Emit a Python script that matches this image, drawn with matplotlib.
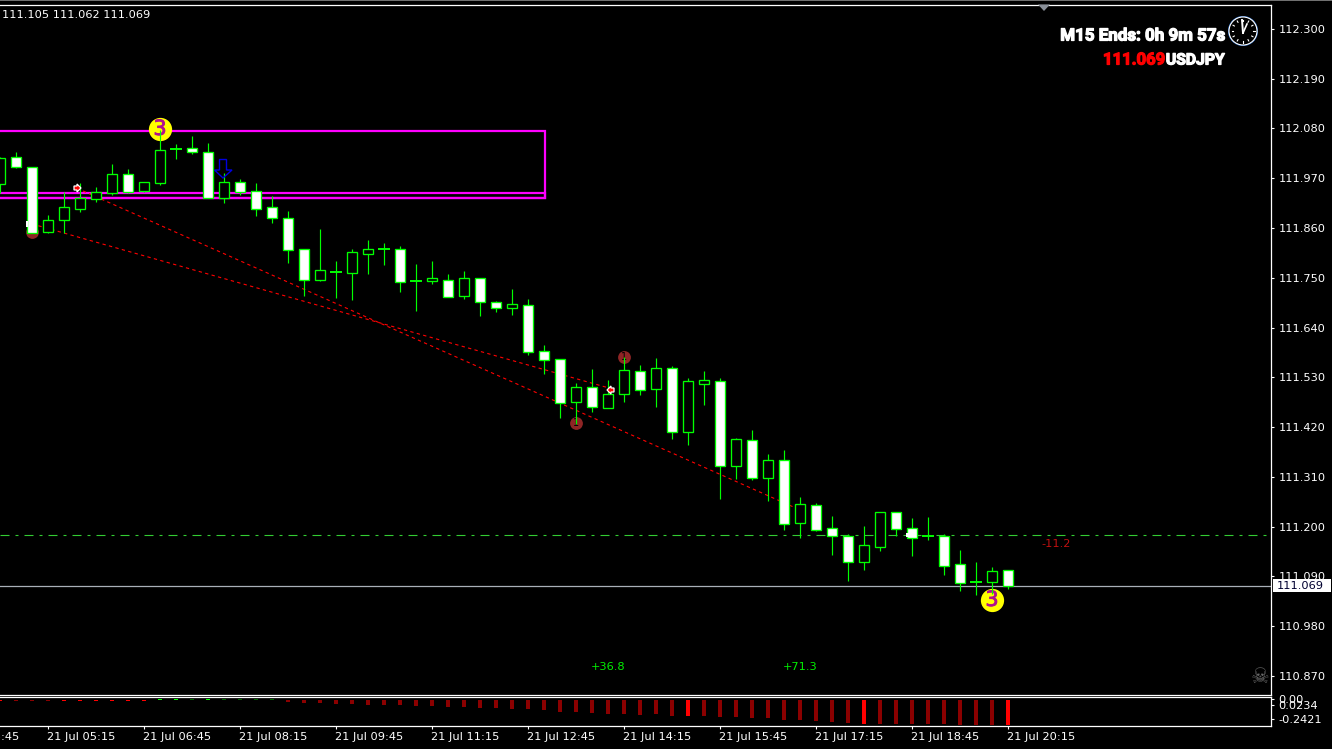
import matplotlib
matplotlib.use("Agg")
import matplotlib.pyplot as plt
import matplotlib.transforms as mt
import matplotlib.patheffects as pe
from matplotlib.patches import Rectangle, Circle, Polygon
import numpy as np

W, H = 1332, 749
BAR_PX = 16.0

# Candles (one every 15 minutes, last one is 21 Jul 20:15)
open_prices = [111.957,112.018,111.995,111.852,111.878,111.902,111.924,111.937,111.979,111.942,
               111.960,112.035,112.037,112.029,111.926,111.962,111.942,111.907,111.882,111.814,
               111.745,111.763,111.761,111.803,111.814,111.814,111.743,111.743,111.745,111.710,
               111.750,111.697,111.683,111.690,111.588,111.570,111.476,111.509,111.463,111.493,
               111.544,111.504,111.551,111.410,111.515,111.522,111.334,111.392,111.307,111.347,
               111.208,111.248,111.197,111.179,111.122,111.155,111.232,111.197,111.179,111.179,
               111.117,111.077,111.077,111.104]
high_prices = [112.018,112.029,111.995,111.889,111.940,111.960,111.951,112.001,111.990,111.962,
               112.077,112.046,112.063,112.048,111.982,111.968,111.960,111.931,111.898,111.814,
               111.858,111.787,111.814,111.834,111.827,111.820,111.780,111.787,111.758,111.765,
               111.750,111.699,111.725,111.703,111.601,111.570,111.517,111.548,111.524,111.575,
               111.557,111.573,111.555,111.528,111.544,111.528,111.396,111.414,111.360,111.369,
               111.266,111.252,111.224,111.184,111.202,111.232,111.232,111.219,111.221,111.184,
               111.148,111.122,111.111,111.105]
low_prices = [111.937,111.993,111.849,111.849,111.849,111.896,111.918,111.933,111.937,111.940,
              111.955,112.013,112.024,111.926,111.915,111.933,111.887,111.871,111.783,111.710,
              111.743,111.705,111.701,111.758,111.778,111.719,111.677,111.736,111.708,111.703,
              111.665,111.675,111.668,111.579,111.537,111.440,111.427,111.454,111.463,111.476,
              111.491,111.465,111.394,111.380,111.469,111.261,111.305,111.303,111.257,111.193,
              111.175,111.191,111.137,111.080,111.104,111.146,111.179,111.135,111.171,111.093,
              111.058,111.049,111.051,111.062]
close_prices = [112.015,111.995,111.849,111.878,111.907,111.926,111.940,111.979,111.940,111.962,
                112.033,112.035,112.029,111.926,111.962,111.940,111.902,111.882,111.811,111.745,
                111.767,111.763,111.807,111.814,111.814,111.741,111.743,111.750,111.708,111.750,
                111.697,111.683,111.692,111.586,111.568,111.473,111.509,111.465,111.493,111.546,
                111.502,111.551,111.410,111.522,111.524,111.334,111.394,111.307,111.347,111.206,
                111.250,111.193,111.179,111.122,111.160,111.232,111.195,111.175,111.179,111.113,
                111.075,111.077,111.102,111.069]

# Lower histogram
hist_values = [-0.016,-0.016,-0.016,-0.016,-0.016,-0.016,-0.016,-0.016,-0.016,-0.013,
               0.010,0.010,0.010,0.010,0.010,0.010,0.010,0.010,-0.018,-0.029,
               -0.029,-0.039,-0.039,-0.048,-0.048,-0.055,-0.058,-0.058,-0.068,-0.068,
               -0.078,-0.078,-0.087,-0.090,-0.097,-0.113,-0.116,-0.129,-0.136,-0.136,
               -0.145,-0.139,-0.152,-0.152,-0.155,-0.165,-0.165,-0.174,-0.174,-0.194,
               -0.194,-0.207,-0.213,-0.223,-0.233,-0.233,-0.233,-0.233,-0.233,-0.233,
               -0.242,-0.242,-0.242,-0.242]
hist_colors = ['#ff0000','#8b0000','#8b0000','#8b0000','#ff0000','#ff0000','#ff0000','#ff0000','#ff0000','#ff0000',
               '#00ff00','#00ff00','#006400','#00ff00','#006400','#006400','#006400','#006400','#8b0000','#8b0000',
               '#8b0000','#8b0000','#8b0000','#8b0000','#8b0000','#8b0000','#8b0000','#8b0000','#8b0000','#8b0000',
               '#8b0000','#8b0000','#8b0000','#8b0000','#8b0000','#8b0000','#8b0000','#8b0000','#8b0000','#8b0000',
               '#8b0000','#8b0000','#8b0000','#ff0000','#8b0000','#8b0000','#8b0000','#8b0000','#8b0000','#8b0000',
               '#8b0000','#8b0000','#8b0000','#8b0000','#ff0000','#8b0000','#8b0000','#8b0000','#8b0000','#8b0000',
               '#8b0000','#8b0000','#8b0000','#ff0000']

price_ticks = [112.300,112.190,112.080,111.970,111.860,111.750,111.640,111.530,111.420,111.310,111.200,111.090,110.980,110.870]
time_tick_bars = [3,9,15,21,27,33,39,45,51,57,63]
time_labels = ['21 Jul 05:15','21 Jul 06:45','21 Jul 08:15','21 Jul 09:45','21 Jul 11:15','21 Jul 12:45',
               '21 Jul 14:15','21 Jul 15:45','21 Jul 17:15','21 Jul 18:45','21 Jul 20:15']
hist_ticks = [0.0097,-0.048,-0.184]
hist_tick_labels = ['0.00','0.0234','-0.2421']

box_left, box_right = -2.0, 34.06
box_outer = [111.926, 112.075]
box_inner = [111.926, 111.937]
trend_a_x, trend_a_y = [2.0, 38.0], [111.869, 111.507]
trend_b_x, trend_b_y = [4.8, 50.0], [111.948, 111.237]
yellow_x, yellow_y = [10, 62], [112.079, 111.038]
dark_x, dark_y = [2, 39, 36], [111.852, 111.575, 111.429]
current_price = 111.069
level_price = 111.182

plt.rcParams['font.family'] = ['DejaVu Sans']
fig = plt.figure(figsize=(W/100, H/100), dpi=100, facecolor='black')
GREEN = '#00ff00'
TICK_FS = 8.2

def axrect(l, t, r, b):
    return [l/W, 1-b/H, (r-l)/W, (b-t)/H]

ax = fig.add_axes(axrect(0, 4.5, 1271, 694.5), facecolor='black')
sub = fig.add_axes(axrect(0, 696.7, 1271, 726.2), facecolor='black')
over = fig.add_axes([0, 0, 1, 1], facecolor='none')
over.set_xlim(0, W); over.set_ylim(H, 0); over.axis('off')

ax.set_xlim(0, 1271/BAR_PX)
ax.set_ylim(110.829, 112.354)
sub.set_xlim(0, 1271/BAR_PX)
sub.set_ylim(-0.2550, 0.0300)

for a in (ax, sub):
    a.spines['left'].set_visible(False)
    for s in ('top', 'right', 'bottom'):
        a.spines[s].set_color('white')
        a.spines[s].set_linewidth(0.9)
    a.yaxis.tick_right()
    a.tick_params(axis='y', colors='white', length=2.5, width=0.8, labelsize=TICK_FS, pad=3)

ax.set_xticks([])
ax.set_yticks(price_ticks)
ax.set_yticklabels([f'{v:.3f}' for v in price_ticks])

x = np.arange(len(open_prices))
o, h, l, c = map(np.array, (open_prices, high_prices, low_prices, close_prices))

# Boxes, levels, trends below candles
for lo, hi in (box_outer, box_inner):
    ax.add_patch(Rectangle((box_left, lo), box_right-box_left, hi-lo, fill=False,
                           edgecolor='#ff00ff', linewidth=1.6, zorder=1))
ax.axhline(current_price, color='#a9b0b8', linewidth=0.9, zorder=1)
ax.axhline(level_price, color='#33cc33', linewidth=0.8, dashes=(8.1, 5.4, 2.7, 5.4), zorder=1)
ax.plot(trend_a_x, trend_a_y, color='#ff0000', linewidth=0.8, dashes=(3, 3), zorder=1)
ax.plot(trend_b_x, trend_b_y, color='#ff0000', linewidth=0.8, dashes=(3, 3), zorder=1)
ax.scatter(yellow_x, yellow_y, s=280, color='#ffff00', zorder=1.5, linewidths=0)
ax.scatter(dark_x, dark_y, s=85, color='#8e2525', zorder=1.5, linewidths=0)
for xi, yi in zip(yellow_x, yellow_y):
    ax.text(xi, yi, '3', color='#b01090', fontsize=15, ha='center', va='center', zorder=1.6,
            path_effects=[pe.withStroke(linewidth=0.6, foreground='#b01090')])
for xi, yi in zip(dark_x[1:], dark_y[1:]):
    ax.text(xi, yi, '1', color='black', fontsize=7, ha='center', va='center', zorder=1.6)

# Candles
ax.vlines(x, l, h, color=GREEN, linewidth=0.85, zorder=3)
bull = c > o
bear = c < o
doji = c == o
ax.bar(x[bull], (c-o)[bull], bottom=o[bull], width=0.65, facecolor='black', edgecolor=GREEN, linewidth=0.95, zorder=4)
ax.bar(x[bear], (c-o)[bear], bottom=o[bear], width=0.65, facecolor='white', edgecolor=GREEN, linewidth=0.95, zorder=4)
ax.hlines(c[doji], x[doji]-0.36, x[doji]+0.36, color=GREEN, linewidth=1.4, zorder=4)

# Lower histogram
sub.bar(x, hist_values, width=0.2, color=hist_colors, linewidth=0)
sub.set_yticks(hist_ticks)
sub.set_yticklabels(hist_tick_labels)
sub.set_xticks(time_tick_bars)
sub.set_xticklabels(time_labels, ha='left')
sub.tick_params(axis='x', colors='white', length=2.5, width=0.8, labelsize=TICK_FS, pad=2)
offs = mt.ScaledTranslation(-1/100, 0, fig.dpi_scale_trans)
for t in sub.get_xticklabels():
    t.set_transform(t.get_transform() + offs)
over.text(19, 737, '21 Jul 03:45', color='white', fontsize=TICK_FS, ha='right', va='center')

# Overlay annotations
over.add_patch(Rectangle((0, 0), W, 1.2, color='#707070', linewidth=0))
over.text(2, 15, '111.105 111.062 111.069', color='white', fontsize=TICK_FS, va='center')
over.add_patch(Polygon([(1038, 4.5), (1050, 4.5), (1044, 11)], color='#8a9099', linewidth=0))

TITLE = ['Roboto', 'Liberation Sans', 'DejaVu Sans']
thick = [pe.withStroke(linewidth=0.9, foreground='white')]
thick_red = [pe.withStroke(linewidth=0.9, foreground='#ff0000')]
over.text(1225, 36, 'M15 Ends: 0h 9m 57s', color='white', fontsize=12.2, fontweight='bold', family=TITLE,
          ha='right', va='center', path_effects=thick)
over.text(1225, 60, 'USDJPY', color='white', fontsize=11.3, fontweight='bold', family=TITLE,
          ha='right', va='center', path_effects=thick)
over.text(1165, 60, '111.069', color='#ff0000', fontsize=12.0, fontweight='bold', family=TITLE,
          ha='right', va='center', path_effects=thick_red)

# Clock
cx, cy, rad = 1243, 31, 14
over.add_patch(Circle((cx, cy), rad+0.6, fill=False, edgecolor='#2a6fd0', linewidth=0.6))
over.add_patch(Circle((cx, cy), rad, fill=False, edgecolor='white', linewidth=0.8))
for ang in np.arange(0, 360, 30):
    ca, sa = np.cos(np.radians(ang)), np.sin(np.radians(ang))
    over.plot([cx+10*ca, cx+11.5*ca], [cy+10*sa, cy+11.5*sa], color='white', linewidth=0.8)
over.plot([cx, cx-1], [cy+2, cy-11], color='white', linewidth=1.4)
over.plot([cx, cx+4], [cy+2, cy-7], color='white', linewidth=1.2)

# Blue hollow arrow
over.add_patch(Polygon([(219.5, 159.5), (226.5, 159.5), (226.5, 170), (232, 170), (223, 178), (214.5, 170), (219.5, 170)],
                       fill=False, edgecolor='#0000e0', linewidth=1.0, zorder=0.5))

# Small trade markers
def marker(px, py, direction):
    d = direction
    over.add_patch(Polygon([(px-3*d, py-2), (px, py-2), (px, py-4), (px+4*d, py), (px, py+4), (px, py+2), (px-3*d, py+2)],
                           facecolor='#ff0000', edgecolor='white', linewidth=0.9))
marker(77, 188, 1)
marker(611, 390, -1)
over.add_patch(Rectangle((906, 533), 3, 4, color='white', linewidth=0))
over.add_patch(Rectangle((26, 221), 2, 6, color='white', linewidth=0))

over.text(1056, 544, '-11.2', color='#c01010', fontsize=TICK_FS, ha='center', va='center')
over.text(608, 667, '+36.8', color='#00f000', fontsize=TICK_FS, ha='center', va='center')
over.text(800, 667, '+71.3', color='#00f000', fontsize=TICK_FS, ha='center', va='center')
over.text(1260, 677, '\u2620', color='#666666', fontsize=15, ha='center', va='center')

over.add_patch(Rectangle((1273, 578.5), 58, 13.5, facecolor='white', edgecolor='none', zorder=5))
over.text(1277, 586, '111.069', color='#000030', fontsize=TICK_FS, va='center', zorder=6)

fig.savefig('out.png', dpi=100, facecolor='black')
